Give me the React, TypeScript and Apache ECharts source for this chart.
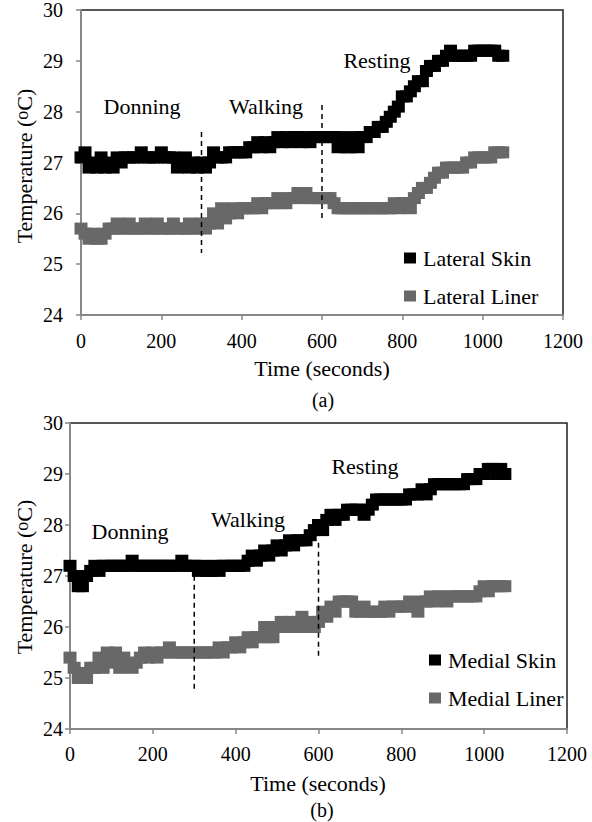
import React, { useEffect, useRef } from "react";
import * as echarts from "echarts";

const TIME = [
  0, 10, 20, 30, 40, 50, 60, 70, 80, 90, 100, 110, 120, 130, 140, 150, 160, 170, 180, 190,
  200, 210, 220, 230, 240, 250, 260, 270, 280, 290, 300, 310, 320, 330, 340, 350, 360, 370, 380, 390,
  400, 410, 420, 430, 440, 450, 460, 470, 480, 490, 500, 510, 520, 530, 540, 550, 560, 570, 580, 590,
  600, 610, 620, 630, 640, 650, 660, 670, 680, 690, 700, 710, 720, 730, 740, 750, 760, 770, 780, 790,
  800, 810, 820, 830, 840, 850, 860, 870, 880, 890, 900, 910, 920, 930, 940, 950, 960, 970, 980, 990,
  1000, 1010, 1020, 1030, 1040, 1050,
];

const LATERAL_SKIN = [
  27.1, 27.2, 26.9, 27.0, 26.9, 27.1, 26.9, 27.0, 26.9, 27.1, 27.0, 27.1, 27.1, 27.1, 27.1, 27.2, 27.1, 27.1, 27.1, 27.1,
  27.2, 27.1, 27.1, 27.1, 26.9, 27.0, 27.1, 26.9, 27.0, 26.9, 27.0, 26.9, 27.0, 27.2, 27.1, 27.1, 27.1, 27.2, 27.2, 27.2,
  27.2, 27.2, 27.3, 27.3, 27.4, 27.3, 27.4, 27.3, 27.4, 27.5, 27.4, 27.5, 27.4, 27.5, 27.5, 27.4, 27.5, 27.4, 27.5, 27.5,
  27.5, 27.5, 27.5, 27.5, 27.3, 27.5, 27.3, 27.3, 27.5, 27.3, 27.5, 27.5, 27.6, 27.6, 27.7, 27.7, 27.8, 27.9, 28.0, 28.1,
  28.3, 28.3, 28.4, 28.5, 28.6, 28.6, 28.8, 28.9, 28.9, 29.0, 29.0, 29.1, 29.2, 29.1, 29.1, 29.1, 29.1, 29.1, 29.2, 29.2,
  29.2, 29.2, 29.2, 29.2, 29.1, 29.1,
];

const LATERAL_LINER = [
  25.7, 25.6, 25.5, 25.6, 25.5, 25.5, 25.6, 25.7, 25.7, 25.8, 25.7, 25.7, 25.8, 25.7, 25.7, 25.7, 25.8, 25.7, 25.7, 25.8,
  25.7, 25.7, 25.7, 25.8, 25.7, 25.7, 25.7, 25.8, 25.7, 25.7, 25.8, 25.7, 25.8, 26.0, 25.8, 26.1, 25.9, 26.0, 26.1, 26.0,
  26.1, 26.1, 26.1, 26.1, 26.2, 26.1, 26.2, 26.2, 26.2, 26.3, 26.2, 26.2, 26.3, 26.3, 26.4, 26.3, 26.4, 26.3, 26.3, 26.3,
  26.3, 26.3, 26.3, 26.2, 26.1, 26.1, 26.1, 26.1, 26.1, 26.1, 26.1, 26.1, 26.1, 26.1, 26.1, 26.1, 26.1, 26.1, 26.2, 26.1,
  26.2, 26.2, 26.1, 26.3, 26.4, 26.5, 26.5, 26.6, 26.7, 26.8, 26.8, 26.9, 26.9, 26.9, 26.9, 26.9, 27.0, 27.0, 27.1, 27.1,
  27.1, 27.1, 27.1, 27.2, 27.2, 27.2,
];

const MEDIAL_SKIN = [
  27.2, 27.0, 26.8, 26.8, 27.0, 27.1, 27.2, 27.1, 27.2, 27.2, 27.2, 27.2, 27.2, 27.2, 27.2, 27.3, 27.2, 27.2, 27.2, 27.2,
  27.2, 27.2, 27.2, 27.2, 27.2, 27.2, 27.2, 27.3, 27.2, 27.2, 27.2, 27.1, 27.2, 27.1, 27.1, 27.2, 27.1, 27.2, 27.2, 27.2,
  27.2, 27.2, 27.2, 27.3, 27.4, 27.3, 27.4, 27.5, 27.4, 27.5, 27.6, 27.5, 27.6, 27.7, 27.6, 27.7, 27.7, 27.7, 27.8, 27.9,
  28.0, 27.9, 28.1, 28.2, 28.1, 28.2, 28.2, 28.3, 28.3, 28.3, 28.3, 28.2, 28.3, 28.4, 28.5, 28.5, 28.5, 28.5, 28.5, 28.5,
  28.5, 28.5, 28.6, 28.6, 28.6, 28.7, 28.6, 28.7, 28.8, 28.8, 28.8, 28.8, 28.8, 28.8, 28.8, 28.8, 28.9, 28.9, 28.9, 29.0,
  29.0, 29.1, 29.1, 29.0, 29.1, 29.0,
];

const MEDIAL_LINER = [
  25.4, 25.2, 25.0, 25.1, 25.0, 25.2, 25.2, 25.4, 25.2, 25.5, 25.3, 25.5, 25.2, 25.4, 25.3, 25.2, 25.3, 25.4, 25.5, 25.4,
  25.5, 25.4, 25.5, 25.5, 25.6, 25.5, 25.5, 25.5, 25.5, 25.5, 25.5, 25.5, 25.5, 25.5, 25.5, 25.5, 25.6, 25.5, 25.6, 25.6,
  25.7, 25.6, 25.7, 25.8, 25.7, 25.8, 25.8, 26.0, 25.8, 25.8, 26.0, 26.1, 26.0, 26.1, 26.0, 26.1, 26.2, 26.0, 26.1, 26.0,
  26.1, 26.3, 26.2, 26.4, 26.3, 26.5, 26.5, 26.5, 26.5, 26.3, 26.3, 26.4, 26.3, 26.3, 26.3, 26.3, 26.4, 26.3, 26.4, 26.4,
  26.4, 26.4, 26.5, 26.4, 26.3, 26.5, 26.5, 26.6, 26.5, 26.6, 26.6, 26.5, 26.6, 26.6, 26.6, 26.6, 26.6, 26.6, 26.6, 26.7,
  26.8, 26.7, 26.8, 26.8, 26.8, 26.8,
];

// phase dividers: [time, upper temperature, lower temperature]
const DIVIDERS_A = [
  [300, 27.6, 25.22],
  [600, 28.13, 25.9],
];
const DIVIDERS_B = [
  [300, 27.18, 24.75],
  [600, 27.65, 25.41],
];

const PHASES = ["Donning", "Walking", "Resting"];
const SERIES_NAMES_A = ["Lateral Skin", "Lateral Liner"];
const SERIES_NAMES_B = ["Medial Skin", "Medial Liner"];
const PANEL_LABELS = ["(a)", "(b)"];
const X_MIN = 0, X_MAX = 1200, X_STEP = 200;
const Y_MIN = 24, Y_MAX = 30, Y_STEP = 1;
const X_TITLE = "Time (seconds)";

const FONT = "Liberation Serif";
const SKIN_COLOR = "#000000";
const LINER_COLOR = "#686868";
const AXIS_COLOR = "#878787";

function pairs(values: number[]) {
  return values.map((v, i) => [TIME[i], v]);
}

export default function App() {
  const ref = useRef<HTMLDivElement>(null);

  useEffect(() => {
    if (!ref.current) return;
    const chart = echarts.init(ref.current, null, { renderer: "svg" });

    const grids = [
      { left: 81, top: 10, width: 482, height: 305 },
      { left: 70, top: 423, width: 497, height: 306 },
    ];
    const yLabelMargins = [18, 7];
    const xLabelMargins = [16, 15];

    const xAxes = grids.map((_, i) => ({
      type: "value",
      gridIndex: i,
      min: X_MIN,
      max: X_MAX,
      interval: X_STEP,
      splitLine: { show: false },
      axisLine: { show: true, lineStyle: { color: AXIS_COLOR, width: 2 } },
      axisTick: { show: true, length: 5, lineStyle: { color: AXIS_COLOR, width: 1.5 } },
      axisLabel: {
        color: "#000",
        fontFamily: FONT,
        fontSize: 20,
        margin: xLabelMargins[i],
        formatter: (v: number) => String(v),
      },
    }));

    const yAxes = grids.map((_, i) => ({
      type: "value",
      gridIndex: i,
      min: Y_MIN,
      max: Y_MAX,
      interval: Y_STEP,
      splitLine: { show: false },
      axisLine: { show: true, lineStyle: { color: AXIS_COLOR, width: 2 } },
      axisTick: { show: true, length: 5, lineStyle: { color: AXIS_COLOR, width: 1.5 } },
      axisLabel: {
        color: "#000",
        fontFamily: FONT,
        fontSize: 20,
        margin: yLabelMargins[i],
        formatter: (v: number) => String(v),
      },
    }));

    const dataSets = [
      { names: SERIES_NAMES_A, skin: LATERAL_SKIN, liner: LATERAL_LINER, dividers: DIVIDERS_A },
      { names: SERIES_NAMES_B, skin: MEDIAL_SKIN, liner: MEDIAL_LINER, dividers: DIVIDERS_B },
    ];

    const series: any[] = [];
    dataSets.forEach((ds, i) => {
      series.push({
        type: "scatter",
        name: ds.names[0],
        xAxisIndex: i,
        yAxisIndex: i,
        symbol: "rect",
        symbolSize: [13, 12],
        itemStyle: { color: SKIN_COLOR, opacity: 1 },
        data: pairs(ds.skin),
        z: 3,
      });
      series.push({
        type: "scatter",
        name: ds.names[1],
        xAxisIndex: i,
        yAxisIndex: i,
        symbol: "rect",
        symbolSize: [13, 12],
        itemStyle: { color: LINER_COLOR, opacity: 1 },
        data: pairs(ds.liner),
        z: 3,
      });
      ds.dividers.forEach((d) => {
        series.push({
          type: "line",
          xAxisIndex: i,
          yAxisIndex: i,
          showSymbol: false,
          symbol: "none",
          lineStyle: { color: "#000", width: 1.5, type: [5, 4] },
          data: [
            [d[0], d[1]],
            [d[0], d[2]],
          ],
          z: 4,
          silent: true,
        });
      });
    });

    const legendCommon = {
      orient: "vertical",
      icon: "rect",
      itemWidth: 12,
      itemHeight: 11,
      itemGap: 16,
      padding: 0,
      textStyle: {
        color: "#000",
        fontFamily: FONT,
        fontSize: 22,
        lineHeight: 22,
        padding: [0, 0, 0, 2],
      },
    };

    const titleStyle = { fill: "#000", fontFamily: FONT, fontSize: 22 };
    const text = (t: string, x: number, y: number, extra: any = {}) => ({
      type: "text",
      x,
      y,
      style: { ...titleStyle, text: t, align: "center", verticalAlign: "middle", ...extra },
    });

    const yTitle = (x: number, y: number) => ({
      type: "text",
      x,
      y,
      rotation: Math.PI / 2,
      style: {
        text: "Temperature ({s|o}C)",
        fill: "#000",
        fontFamily: FONT,
        fontSize: 22,
        align: "center",
        verticalAlign: "middle",
        rich: {
          s: { fontFamily: FONT, fontSize: 18, verticalAlign: "top", fill: "#000" },
        },
      },
    });

    chart.setOption({
      animation: false,
      backgroundColor: "#ffffff",
      grid: grids.map((g) => ({
        ...g,
        show: true,
        borderColor: "#222",
        borderWidth: 1.5,
        backgroundColor: "transparent",
      })),
      xAxis: xAxes,
      yAxis: yAxes,
      legend: [
        { ...legendCommon, data: SERIES_NAMES_A, left: 404, top: 247 },
        { ...legendCommon, data: SERIES_NAMES_B, left: 429, top: 649 },
      ],
      series,
      graphic: [
        yTitle(24, 166),
        yTitle(24, 577),
        text(X_TITLE, 322, 368),
        text(X_TITLE, 318, 783),
        text(PANEL_LABELS[0], 323, 400, { fontSize: 20 }),
        text(PANEL_LABELS[1], 322, 810, { fontSize: 20 }),
        text(PHASES[0], 142, 106),
        text(PHASES[1], 266, 106),
        text(PHASES[2], 377, 60),
        text(PHASES[0], 130, 531),
        text(PHASES[1], 248, 519),
        text(PHASES[2], 365, 466),
      ],
    });

    return () => chart.dispose();
  }, []);

  return (
    <div
      ref={ref}
      style={{ position: "absolute", left: 0, top: 0, width: 592, height: 822, background: "#fff" }}
    />
  );
}
